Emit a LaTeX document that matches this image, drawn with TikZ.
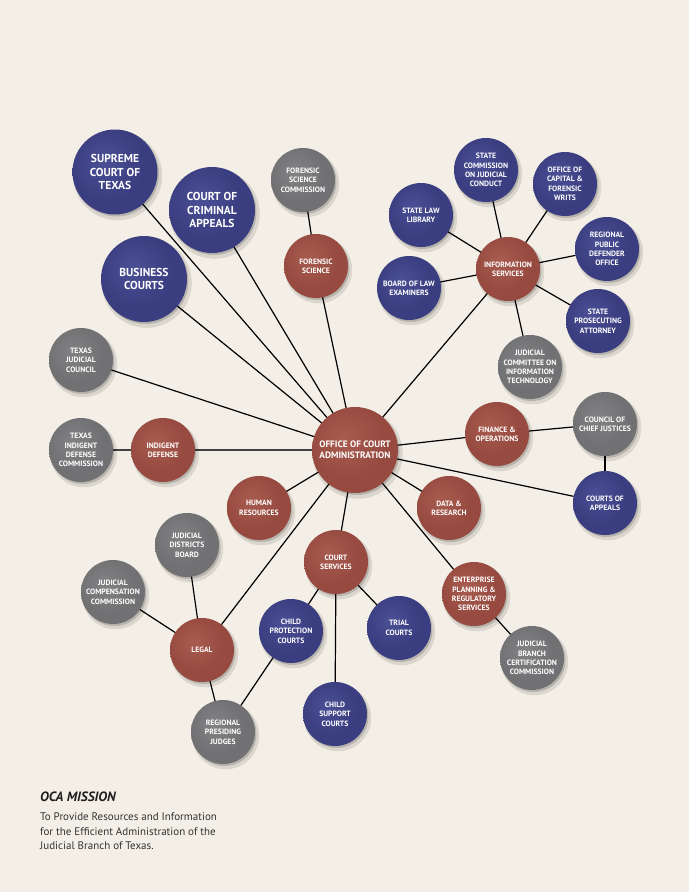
\documentclass[tikz,border=0pt]{standalone}
\usepackage{fontspec}
\setmainfont{PT Sans}
\usetikzlibrary{shadows}
\definecolor{bgc}{HTML}{F3EFE6}
\definecolor{navyhi}{HTML}{4B4F95}
\definecolor{navymid}{HTML}{3A3D7F}
\definecolor{navyrim}{HTML}{26295C}
\definecolor{redhi}{HTML}{A85B4F}
\definecolor{redmid}{HTML}{974A3F}
\definecolor{redrim}{HTML}{6F3128}
\definecolor{grayhi}{HTML}{828285}
\definecolor{graymid}{HTML}{717174}
\definecolor{grayrim}{HTML}{525255}
\pgfdeclareradialshading{navyball}{\pgfpoint{-7bp}{7bp}}{color(0bp)=(navyhi); color(22bp)=(navymid); color(46bp)=(navymid); color(54bp)=(navyrim); color(70bp)=(navyrim)}
\pgfdeclareradialshading{redball}{\pgfpoint{-7bp}{7bp}}{color(0bp)=(redhi); color(22bp)=(redmid); color(46bp)=(redmid); color(54bp)=(redrim); color(70bp)=(redrim)}
\pgfdeclareradialshading{grayball}{\pgfpoint{-7bp}{7bp}}{color(0bp)=(grayhi); color(22bp)=(graymid); color(46bp)=(graymid); color(54bp)=(grayrim); color(70bp)=(grayrim)}
\pgfdeclarelayer{bg}
\pgfdeclarelayer{edges}
\pgfsetlayers{bg,edges,main}
\tikzset{
  ballbase/.style={circle, inner sep=0pt, draw=none,
    drop shadow={shadow xshift=2.5pt, shadow yshift=-3.5pt, shadow scale=1.05, opacity=.10, fill=black},
    drop shadow={shadow xshift=1.5pt, shadow yshift=-2pt, opacity=.16, fill=black}},
  navyb/.style={ballbase, shading=navyball},
  redb/.style={ballbase, shading=redball},
  grayb/.style={ballbase, shading=grayball},
  btxt/.style={text=white, font=\bfseries\fontsize{7.7}{9.4}\selectfont, align=center, inner sep=0pt},
  bigtxt/.style={text=white, font=\bfseries\fontsize{11.5}{13.7}\selectfont, align=center, inner sep=0pt},
  ocatxt/.style={text=white, font=\bfseries\fontsize{9.3}{11}\selectfont, align=center, inner sep=0pt},
  conn/.style={line width=1.2pt, black},
}
\newcommand\mkball[6]{%
  \node[#4, minimum size=#3] (#1) at (#2) {};
  \node[#5] (#1-t) at (#1.center) {#6};}
\begin{document}
\begin{tikzpicture}[x=1pt,y=-1pt]
\useasboundingbox (0,0) rectangle (689,892);
\begin{pgfonlayer}{bg}
\fill[bgc] (0,0) rectangle (689,892);
\end{pgfonlayer}

\mkball{sct}{115,172}{85pt}{navyb}{bigtxt}{SUPREME\\COURT OF\\TEXAS}
\mkball{cca}{212,210}{86pt}{navyb}{bigtxt}{COURT OF\\CRIMINAL\\APPEALS}
\mkball{bc}{144,279}{86pt}{navyb}{bigtxt}{BUSINESS\\COURTS}
\mkball{fsc}{303,180}{64pt}{grayb}{btxt}{FORENSIC\\SCIENCE\\COMMISSION}
\mkball{fs}{316,266}{64pt}{redb}{btxt}{FORENSIC\\SCIENCE}
\mkball{is}{508,269}{64pt}{redb}{btxt}{INFORMATION\\SERVICES}
\mkball{scjc}{486,170}{64pt}{navyb}{btxt}{STATE\\COMMISSION\\ON JUDICIAL\\CONDUCT}
\mkball{ocfw}{565,184}{64pt}{navyb}{btxt}{OFFICE OF\\CAPITAL \&\\FORENSIC\\WRITS}
\mkball{sll}{421,215}{64pt}{navyb}{btxt}{STATE LAW\\LIBRARY}
\mkball{rpdo}{607,249}{64pt}{navyb}{btxt}{REGIONAL\\PUBLIC\\DEFENDER\\OFFICE}
\mkball{ble}{409,288}{64pt}{navyb}{btxt}{BOARD OF LAW\\EXAMINERS}
\mkball{spa}{598,321}{64pt}{navyb}{btxt}{STATE\\PROSECUTING\\ATTORNEY}
\mkball{jcit}{530,367}{64pt}{grayb}{btxt}{JUDICIAL\\COMMITTEE ON\\INFORMATION\\TECHNOLOGY}
\mkball{tjc}{81,360}{64pt}{grayb}{btxt}{TEXAS\\JUDICIAL\\COUNCIL}
\mkball{tidc}{81,450}{64pt}{grayb}{btxt}{TEXAS\\INDIGENT\\DEFENSE\\COMMISSION}
\mkball{id}{163,450}{64pt}{redb}{btxt}{INDIGENT\\DEFENSE}
\mkball{oca}{355,450}{86pt}{redb}{ocatxt}{OFFICE OF COURT\\ADMINISTRATION}
\mkball{hr}{259,508}{64pt}{redb}{btxt}{HUMAN\\RESOURCES}
\mkball{fo}{497,434}{64pt}{redb}{btxt}{FINANCE \&\\OPERATIONS}
\mkball{ccj}{605,424}{64pt}{grayb}{btxt}{COUNCIL OF\\CHIEF JUSTICES}
\mkball{coa}{605,503}{64pt}{navyb}{btxt}{COURTS OF\\APPEALS}
\mkball{dr}{449,508}{64pt}{redb}{btxt}{DATA \&\\RESEARCH}
\mkball{cs}{336,562}{64pt}{redb}{btxt}{COURT\\SERVICES}
\mkball{eprs}{474,594}{64pt}{redb}{btxt}{ENTERPRISE\\PLANNING \&\\REGULATORY\\SERVICES}
\mkball{tc}{399,628}{64pt}{navyb}{btxt}{TRIAL\\COURTS}
\mkball{jbcc}{532,658}{64pt}{grayb}{btxt}{JUDICIAL\\BRANCH\\CERTIFICATION\\COMMISSION}
\mkball{jdb}{187,545}{64pt}{grayb}{btxt}{JUDICIAL\\DISTRICTS\\BOARD}
\mkball{jcc}{113,592}{64pt}{grayb}{btxt}{JUDICIAL\\COMPENSATION\\COMMISSION}
\mkball{legal}{202,650}{64pt}{redb}{btxt}{LEGAL}
\mkball{cpc}{291,631}{64pt}{navyb}{btxt}{CHILD\\PROTECTION\\COURTS}
\mkball{csc}{335,714}{64pt}{navyb}{btxt}{CHILD\\SUPPORT\\COURTS}
\mkball{rpj}{223,732}{64pt}{grayb}{btxt}{REGIONAL\\PRESIDING\\JUDGES}

\begin{pgfonlayer}{edges}
\draw[conn] (oca.center) -- (sct.center);
\draw[conn] (oca.center) -- (cca.center);
\draw[conn] (oca.center) -- (bc.center);
\draw[conn] (oca.center) -- (fs.center);
\draw[conn] (fs.center) -- (fsc.center);
\draw[conn] (oca.center) -- (is.center);
\draw[conn] (is.center) -- (scjc.center);
\draw[conn] (is.center) -- (ocfw.center);
\draw[conn] (is.center) -- (sll.center);
\draw[conn] (is.center) -- (rpdo.center);
\draw[conn] (is.center) -- (ble.center);
\draw[conn] (is.center) -- (spa.center);
\draw[conn] (is.center) -- (jcit.center);
\draw[conn] (oca.center) -- (tjc.center);
\draw[conn, black!75] (oca.center) -- (id.center);
\draw[conn, black!75] (id.center) -- (tidc.center);
\draw[conn] (oca.center) -- (hr.center);
\draw[conn] (oca.center) -- (legal.center);
\draw[conn] (oca.center) -- (cs.center);
\draw[conn] (oca.center) -- (dr.center);
\draw[conn] (oca.center) -- (eprs.center);
\draw[conn] (oca.center) -- (fo.center);
\draw[conn] (fo.center) -- (ccj.center);
\draw[conn] (oca.center) -- (coa.center);
\draw[conn] (ccj.center) -- (coa.center);
\draw[conn] (cs.center) -- (cpc.center);
\draw[conn] (cs.center) -- (csc.center);
\draw[conn] (cs.center) -- (tc.center);
\draw[conn] (legal.center) -- (jdb.center);
\draw[conn] (legal.center) -- (jcc.center);
\draw[conn] (legal.center) -- (rpj.center);
\draw[conn] (cpc.center) -- (rpj.center);
\draw[conn] (eprs.center) -- (jbcc.center);
\end{pgfonlayer}

\node[anchor=west, inner sep=0pt, font=\bfseries\itshape\fontsize{13.5}{15}\selectfont, text=black!88] (mtitle) at (40,797) {OCA MISSION};
\node[anchor=north west, inner sep=0pt, align=left, font=\fontsize{11}{14.5}\selectfont, text=black!80] (mbody) at (40,813) {To Provide Resources and Information\\for the Efficient Administration of the\\Judicial Branch of Texas.};
\end{tikzpicture}
\end{document}
